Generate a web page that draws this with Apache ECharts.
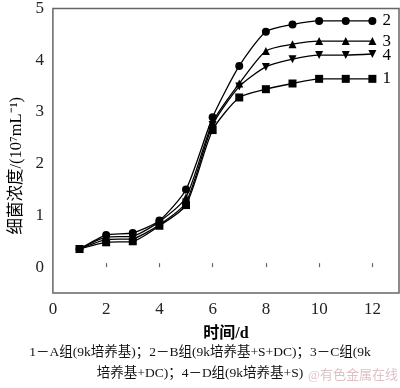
<!DOCTYPE html>
<html><head><meta charset="utf-8">
<script src="https://cdn.jsdelivr.net/npm/echarts@6/dist/echarts.min.js"></script>
<style>html,body{margin:0;padding:0;background:#fff}#c{width:400px;height:388px}</style>
</head><body><div id="c"></div>
<script>
var days = [1,2,3,4,5,6,7,8,9,10,11,12];
var groupA = [0.35,0.48,0.50,0.80,1.20,2.65,3.28,3.44,3.55,3.64,3.64,3.64];
var groupB = [0.35,0.62,0.66,0.90,1.50,2.90,3.89,4.55,4.69,4.76,4.76,4.76];
var groupC = [0.35,0.58,0.60,0.88,1.35,2.80,3.55,4.18,4.31,4.37,4.37,4.37];
var groupD = [0.35,0.53,0.55,0.82,1.25,2.75,3.49,3.87,4.02,4.10,4.10,4.12];
var xLabels = [0,2,4,6,8,10,12];
var yLabels = [0,1,2,3,4,5];
var seriesNames = ['1','2','3','4'];

var serif = '"Liberation Serif","Times New Roman","Noto Sans CJK SC",serif';
function pairs(v){ return days.map(function(d,i){ return [d, v[i]]; }); }
function mk(name, vals, symbol, rot, labOff){
  return {
    name: name, type: 'line', data: pairs(vals), smooth: 0.22,
    symbol: symbol, symbolSize: 8, symbolRotate: rot||0,
    lineStyle: {color:'#000', width:1.3},
    itemStyle: {color:'#000'},
    endLabel: {show:true, formatter: name, color:'#000', fontFamily: serif, fontSize:17, distance: 10, offset: labOff||[0,0]},
    z: 3
  };
}
var chart = echarts.init(document.getElementById('c'), null, {renderer:'canvas'});
chart.setOption({
  animation:false,
  grid:{left:44, top:6, right:1, bottom:95, show:true, borderColor:'#666', borderWidth:1.5},
  xAxis:{type:'value', min:0, max:13,
    name:'时间/d', nameLocation:'middle', nameGap:33,
    nameTextStyle:{fontFamily:serif, fontSize:16, fontWeight:'bold', color:'#000'},
    axisLine:{show:false}, splitLine:{show:false},
    axisTick:{show:true, inside:true, length:4, lineStyle:{color:'#666',width:1.2}, customValues: xLabels.slice(1)},
    axisLabel:{customValues: xLabels, fontFamily:serif, fontSize:17, color:'#222', margin:8, alignMinLabel:'center'}
  },
  yAxis:{type:'value', min:-0.5, max:5,
    name:'细菌浓度/(10⁷mL⁻¹)', nameLocation:'middle', nameGap:27, nameRotate:90,
    nameTextStyle:{fontFamily:serif, fontSize:16.5, color:'#000', padding:[0,0,0,-30]},
    axisLine:{show:false}, splitLine:{show:false},
    axisTick:{show:false},
    axisLabel:{customValues: yLabels, fontFamily:serif, fontSize:17, color:'#222', margin:9}
  },
  series:[
    mk(seriesNames[0], groupA, 'rect', 0, [0,0]),
    mk(seriesNames[1], groupB, 'circle', 0, [0,0]),
    mk(seriesNames[2], groupC, 'triangle', 0, [0,0]),
    mk(seriesNames[3], groupD, 'triangle', 180, [0,2])
  ],
  graphic:[
    {type:'text', left:'center', top:346, style:{text:'1－A组(9k培养基)；2－B组(9k培养基+S+DC)；3－C组(9k', fontFamily:serif, fontSize:13.5, fill:'#111'}},
    {type:'text', left:'center', top:367, style:{text:'培养基+DC)；4－D组(9k培养基+S)', fontFamily:serif, fontSize:13.5, fill:'#111'}},
    {type:'text', right:2, top:369, style:{text:'@有色金属在线', fontFamily:serif, fontSize:13, fill:'rgba(200,150,160,0.6)'}}
  ]
});
</script></body></html>
